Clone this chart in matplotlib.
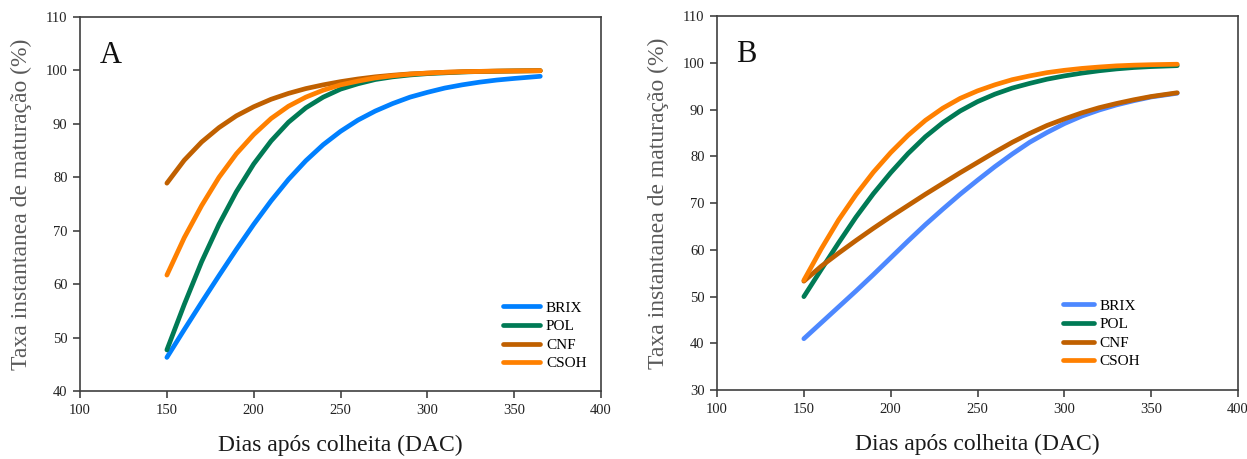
import matplotlib
matplotlib.use("Agg")
from matplotlib import pyplot as plt

plt.rcParams['font.family'] = ['Liberation Serif', 'DejaVu Serif']

# Days after harvest where the curves were sampled
days = [150, 160, 170, 180, 190, 200, 210, 220, 230, 240, 250,
        260, 270, 280, 290, 300, 310, 320, 330, 340, 350, 365]

# Panel A
brix_a = [46.3, 51.5, 56.6, 61.6, 66.5, 71.2, 75.6, 79.6, 83.1, 86.1, 88.6,
          90.7, 92.4, 93.8, 95.0, 95.9, 96.7, 97.3, 97.8, 98.2, 98.5, 98.9]
pol_a = [47.7, 56.2, 64.2, 71.2, 77.3, 82.5, 86.8, 90.3, 93.0, 95.0, 96.5,
         97.5, 98.3, 98.8, 99.15, 99.4, 99.55, 99.7, 99.8, 99.85, 99.9, 99.95]
cnf_a = [78.9, 83.2, 86.6, 89.3, 91.5, 93.2, 94.6, 95.7, 96.6, 97.3, 97.9,
         98.4, 98.8, 99.1, 99.35, 99.5, 99.65, 99.75, 99.82, 99.87, 99.9, 99.95]
csoh_a = [61.7, 68.7, 74.7, 80.0, 84.4, 88.0, 91.0, 93.3, 95.0, 96.3, 97.3,
          98.0, 98.6, 99.0, 99.3, 99.5, 99.65, 99.75, 99.82, 99.87, 99.9, 99.95]

# Panel B
brix_b = [41.0, 44.4, 47.8, 51.2, 54.7, 58.3, 61.9, 65.4, 68.7, 71.9, 74.9,
          77.8, 80.5, 83.0, 85.1, 87.0, 88.6, 89.9, 91.0, 91.9, 92.7, 93.5]
pol_b = [50.0, 55.8, 61.5, 67.0, 72.0, 76.5, 80.6, 84.2, 87.2, 89.7, 91.7,
         93.3, 94.6, 95.6, 96.5, 97.2, 97.8, 98.3, 98.7, 99.0, 99.2, 99.4]
cnf_b = [53.3, 56.5, 59.3, 62.0, 64.6, 67.1, 69.5, 71.9, 74.2, 76.5, 78.7,
         80.9, 83.0, 84.9, 86.6, 88.0, 89.3, 90.4, 91.3, 92.1, 92.8, 93.6]
csoh_b = [53.5, 60.2, 66.4, 71.8, 76.6, 80.8, 84.5, 87.7, 90.3, 92.4, 94.0,
          95.3, 96.4, 97.2, 97.9, 98.4, 98.8, 99.1, 99.35, 99.5, 99.6, 99.7]

labels = ['BRIX', 'POL', 'CNF', 'CSOH']
x_ticks = [100, 150, 200, 250, 300, 350, 400]


def draw_panel(ax, series, colors, letter, ylim, handle_len, leg_anchor):
    for vals, col, lab in zip(series, colors, labels):
        ax.plot(days, vals, color=col, lw=3.4, label=lab, solid_capstyle='round')

    ax.set_xlim(100, 400)
    ax.set_ylim(*ylim)
    ax.set_xticks(x_ticks)
    ax.set_yticks(range(ylim[0], ylim[1] + 1, 10))
    ax.tick_params(direction='out', length=5, width=1.1, labelsize=10.5, pad=4,
                   colors='#333333', labelcolor='#222222', top=False, right=False)
    for sp in ax.spines.values():
        sp.set_color('#404040')
        sp.set_linewidth(1.2)

    ax.set_xlabel('Dias após colheita (DAC)', fontsize=17, color='#1a1a1a')
    ax.set_ylabel('Taxa instantanea de maturação (%)', fontsize=17, color='#5a5a5a')
    ax.xaxis.set_label_coords(0.5, -0.118)
    ax.yaxis.set_label_coords(-0.092, 0.5)

    ax.text(0.037, 0.898, letter, transform=ax.transAxes, fontsize=22,
            ha='left', va='center', color='#111111')

    ax.legend(loc='lower left', bbox_to_anchor=leg_anchor, frameon=False,
              fontsize=11, handlelength=handle_len, handletextpad=0.4,
              labelspacing=0.32, borderpad=0, borderaxespad=0)


fig = plt.figure(figsize=(12.47, 4.59), dpi=100)
ax_a = fig.add_axes([0.0642, 0.148, 0.4178, 0.815])
ax_b = fig.add_axes([0.575, 0.150, 0.4178, 0.815])

draw_panel(ax_a, [brix_a, pol_a, cnf_a, csoh_a],
           ['#0080FF', '#007A55', '#C06000', '#FF8000'],
           'A', (40, 110), 2.4, (0.812, 0.055))
draw_panel(ax_b, [brix_b, pol_b, cnf_b, csoh_b],
           ['#4D88FF', '#007A55', '#C06000', '#FF8000'],
           'B', (30, 110), 2.0, (0.664, 0.058))

fig.savefig('out.png', dpi=100)
